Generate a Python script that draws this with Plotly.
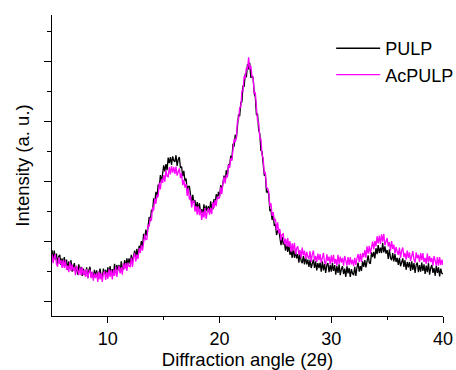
import numpy as np
import plotly.graph_objects as go

# 2-theta positions (0.1 degree steps from 5 to 40)
two_theta = np.round(np.arange(5.0, 40.05, 0.1), 1)

# Intensity (a.u.)
pulp = [
    85,69,84,69,79,62,74,77,60,71,
    59,73,59,69,52,66,54,68,49,59,
    63,49,57,44,61,48,57,42,54,47,
    43,56,38,51,57,40,48,38,52,41,
    51,37,48,54,41,37,54,45,52,40,
    56,45,58,44,53,43,62,48,60,51,
    60,48,66,55,53,68,56,71,61,71,
    62,77,65,77,84,72,87,75,92,87,
    100,90,112,103,119,109,129,140,133,152,
    149,171,164,182,172,194,189,210,198,215,
    226,216,228,218,239,230,240,227,241,234,
    232,243,225,236,240,222,224,208,217,200,
    204,185,191,191,172,163,177,164,168,153,
    165,152,163,147,153,142,161,146,159,149,
    158,147,166,155,154,170,161,178,170,182,
    175,193,184,199,209,200,218,209,228,226,
    242,236,262,257,277,271,296,311,308,331,
    332,359,357,379,373,395,386,397,372,375,
    373,347,340,310,312,285,279,251,249,227,
    210,210,181,183,178,151,152,135,143,125,
    128,110,117,119,101,93,107,94,99,84,
    96,82,94,77,84,72,89,72,83,71,
    78,64,80,67,63,75,61,74,61,69,
    57,69,55,64,69,55,66,51,63,55,
    64,49,66,51,62,47,60,63,48,60,
    49,63,50,60,44,58,47,61,43,53,
    58,45,54,40,58,46,55,40,53,46,
    43,57,42,56,64,49,58,50,66,57,
    68,56,69,76,64,62,81,73,82,71,
    88,78,93,80,89,80,97,81,91,79,
    85,70,86,72,68,80,66,78,65,72,
    60,72,58,67,71,57,68,52,65,56,
    65,50,66,52,63,47,60,64,48,60,
    49,64,50,61,45,59,48,63,44,55,
    60,47,55,42,59,47,56,41,54,46,
    45,
]

acpulp = [
    78,63,73,78,62,57,73,62,68,55,
    68,55,68,52,59,48,65,50,61,50,
    57,43,59,47,43,56,43,56,43,52,
    40,53,38,48,52,38,49,34,46,38,
    47,32,49,36,47,32,46,50,35,48,
    37,53,40,52,36,52,42,57,40,52,
    58,46,56,44,63,53,63,50,64,58,
    57,72,57,72,80,66,77,70,88,80,
    93,84,100,111,102,103,127,124,139,134,
    156,151,171,162,177,174,197,186,203,197,
    210,199,218,208,207,223,211,225,214,223,
    212,224,209,217,221,205,213,193,202,189,
    195,175,188,169,176,156,166,167,149,158,
    144,158,143,153,135,149,139,155,137,149,
    155,144,155,145,165,155,168,158,174,171,
    172,190,178,196,207,196,210,206,227,222,
    238,234,254,270,265,271,300,303,322,323,
    350,350,375,371,389,386,406,387,392,374,
    373,346,347,319,300,298,271,270,244,238,
    213,214,189,188,182,158,163,142,148,134,
    137,118,131,113,120,101,111,112,95,104,
    91,105,90,100,82,96,84,97,78,88,
    91,77,85,72,89,76,84,70,82,74,
    70,83,65,78,84,67,75,65,79,68,
    78,64,74,80,65,61,78,67,74,61,
    76,64,77,62,70,59,77,62,74,64,
    72,59,75,63,59,73,60,73,61,69,
    58,72,60,71,78,65,79,65,80,73,
    85,72,91,79,92,79,93,99,86,100,
    91,108,96,109,95,111,99,112,93,102,
    105,91,98,84,100,87,94,79,90,82,
    77,89,72,84,89,73,80,69,84,72,
    81,67,77,83,69,64,81,71,77,65,
    80,68,80,65,72,62,79,64,75,65,
    72,59,75,63,59,73,59,73,60,69,
    60,
]

x_ticks = [10, 20, 30, 40]
x_minor = [15, 25, 35]

FONT = "Liberation Sans, Arial, sans-serif"

fig = go.Figure()
fig.add_trace(go.Scatter(x=two_theta, y=pulp, mode="lines", name="PULP",
                         line=dict(color="black", width=1.3)))
fig.add_trace(go.Scatter(x=two_theta, y=acpulp, mode="lines", name="AcPULP",
                         line=dict(color="#ff00ff", width=1.3)))

fig.update_layout(
    width=456, height=370,
    margin=dict(l=52, r=13, t=15, b=54, autoexpand=False),
    paper_bgcolor="white", plot_bgcolor="white",
    font=dict(family=FONT, color="black", size=18),
    legend=dict(x=0.714, y=0.95, xanchor="left", yanchor="top",
                font=dict(size=18), bgcolor="rgba(0,0,0,0)",
                tracegroupgap=0, itemwidth=44),
    showlegend=True,
)
fig.update_xaxes(
    range=[5, 40], showgrid=False, zeroline=False, automargin=False,
    showline=True, linecolor="black", linewidth=1,
    ticks="outside", ticklen=6, tickwidth=1, tickcolor="black",
    tickvals=x_ticks, ticktext=[str(v) for v in x_ticks],
    tickfont=dict(size=18),
    minor=dict(ticks="outside", ticklen=3, tickvals=x_minor, tickcolor="black"),
    title=dict(text="Diffraction angle (2θ)", font=dict(size=18.5), standoff=12),
)
fig.update_yaxes(
    range=[-25, 476.7], showgrid=False, zeroline=False, automargin=False,
    showline=True, linecolor="black", linewidth=1,
    ticks="outside", ticklen=7, tickwidth=1, tickcolor="black",
    tick0=0, dtick=100, showticklabels=False,
    minor=dict(ticks="outside", ticklen=4, tick0=50, dtick=100, tickcolor="black"),
    title=dict(text="Intensity (a. u.)", font=dict(size=18.5), standoff=9),
)

fig.write_html("out.html")
